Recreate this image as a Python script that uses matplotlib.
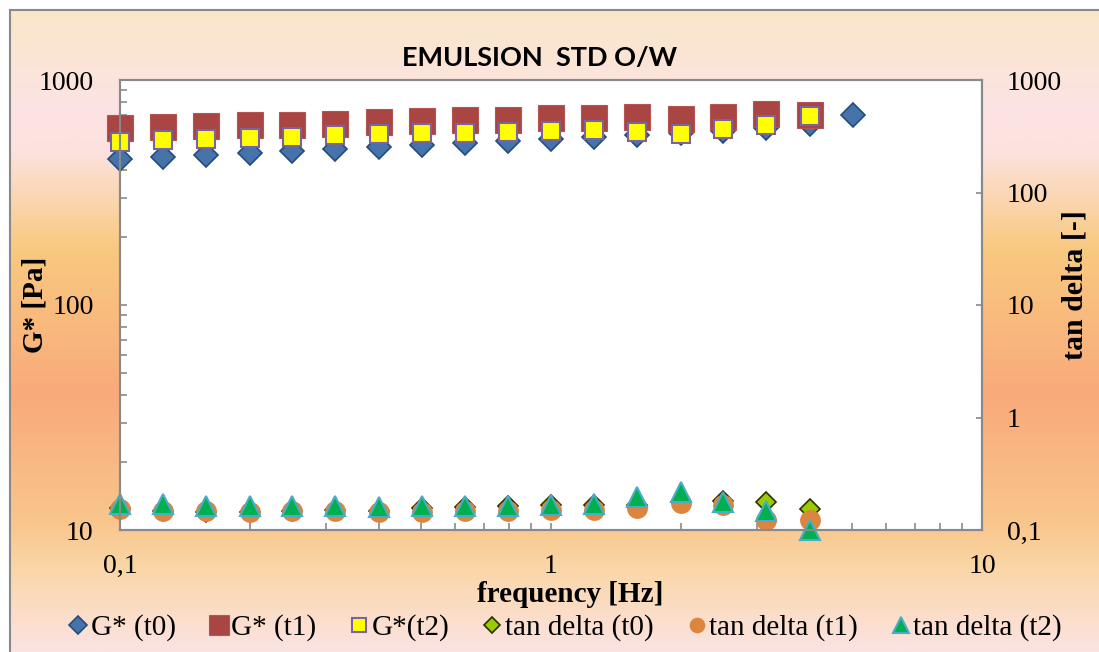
import numpy as np
import matplotlib.pyplot as plt
from matplotlib.colors import LinearSegmentedColormap
from matplotlib.ticker import FixedLocator, LogLocator, NullFormatter, NullLocator

# oscillatory sweep, frequency in Hz
freq = [0.1, 0.126, 0.158, 0.2, 0.251, 0.316, 0.398, 0.501, 0.631,
        0.794, 1.0, 1.26, 1.58, 2.0, 2.51, 3.16, 3.98, 5.01]

# complex modulus G* [Pa]
g_t0 = [446, 455, 464, 474, 483, 494, 504, 514, 525, 535, 547, 558,
        570, 581, 593, 612, 637, 699]
g_t1 = [612, 617, 625, 631, 634, 639, 650, 658, 664, 666, 678, 681,
        685, 673, 685, 708, 699]
g_t2 = [532, 540, 545, 552, 560, 568, 574, 579, 584, 589, 595, 597,
        587, 577, 603, 628, 690]

# loss factor tan delta [-]
td_t0 = [0.156, 0.148, 0.145, 0.145, 0.148, 0.150, 0.148, 0.158, 0.159,
         0.164, 0.167, 0.166, 0.167, 0.176, 0.181, 0.176, 0.153]
td_t1 = [0.155, 0.148, 0.148, 0.145, 0.148, 0.148, 0.145, 0.145, 0.148,
         0.148, 0.150, 0.150, 0.156, 0.173, 0.168, 0.122, 0.122]
td_t2 = [0.171, 0.171, 0.165, 0.163, 0.163, 0.163, 0.161, 0.164, 0.164,
         0.165, 0.168, 0.171, 0.195, 0.216, 0.177, 0.147, 0.101]

x_ticks = [0.1, 1, 10]
x_labels = ['0,1', '1', '10']
g_ticks = [10, 100, 1000]
g_labels = ['10', '100', '1000']
td_ticks = [0.1, 1, 10, 100, 1000]
td_labels = ['0,1', '1', '10', '100', '1000']

serif = 'Liberation Serif'
grey = '#898989'

W, H = 1099, 652
fig = plt.figure(figsize=(W / 100, H / 100), dpi=100)

# chart area fill: vertical peach gradient
bg = fig.add_axes([10 / W, 0, 1 - 10 / W, 642 / H], zorder=-10)
peach = LinearSegmentedColormap.from_list('peach', [
    (0.00, '#FAE7C9'), (0.15, '#FCE3E3'), (0.22, '#FCE2DF'),
    (0.37, '#F9C980'), (0.60, '#F8AA7A'), (0.80, '#F9C68C'),
    (0.87, '#FAD6A6'), (1.00, '#FCE3E3')])
bg.imshow(np.linspace(0, 1, 256).reshape(-1, 1), aspect='auto', cmap=peach,
          extent=[0, 1, 0, 1])
bg.set_xticks([])
bg.set_yticks([])
for s in ['right', 'bottom']:
    bg.spines[s].set_visible(False)
for s in ['left', 'top']:
    bg.spines[s].set_color(grey)
    bg.spines[s].set_linewidth(1.5)

ax = fig.add_axes([120 / W, 1 - 530 / H, 862 / W, 450 / H])
ax.set_facecolor('white')
ax2 = ax.twinx()

ax.plot(freq, g_t0, ls='none', marker='D', ms=12, mfc='#4674AA',
        mec='#264C7C', mew=1.2, clip_on=False, label='G* (t0)')
ax.plot(freq[:17], g_t1, ls='none', marker='s', ms=19, mfc='#A94543',
        mec='#B45553', mew=0.8, clip_on=False, label='G* (t1)')
ax.plot(freq[:17], g_t2, ls='none', marker='s', ms=13.5, mfc='#FFFF00',
        mec='#7D62A3', mew=1.5, clip_on=False, label='G*(t2)')

ax2.plot(freq[:17], td_t0, ls='none', marker='D', ms=10.5, mfc='#99CC00',
         mec='#2E2E00', mew=1.2, clip_on=False, label='tan delta (t0)')
ax2.plot(freq[:17], td_t1, ls='none', marker='o', ms=15, mfc='#DC853F',
         mec='#DC853F', mew=0, clip_on=False, label='tan delta (t1)')
ax2.plot(freq[:17], td_t2, ls='none', marker='^', ms=14.5, mfc='#00B050',
         mec='#4BACC6', mew=1.5, clip_on=False, label='tan delta (t2)')

ax.set_xscale('log')
ax.set_yscale('log')
ax2.set_yscale('log')
ax.set_xlim(0.1, 10)
ax.set_ylim(10, 1000)
ax2.set_ylim(0.1, 1000)

ax.xaxis.set_major_locator(FixedLocator(x_ticks))
ax.set_xticklabels(x_labels)
ax.xaxis.set_minor_locator(LogLocator(base=10, subs=np.arange(2, 10)))
ax.xaxis.set_minor_formatter(NullFormatter())
ax.yaxis.set_major_locator(FixedLocator(g_ticks))
ax.set_yticklabels(g_labels)
ax.yaxis.set_minor_locator(LogLocator(base=10, subs=np.arange(2, 10)))
ax.yaxis.set_minor_formatter(NullFormatter())
ax2.yaxis.set_major_locator(FixedLocator(td_ticks))
ax2.set_yticklabels(td_labels)
ax2.yaxis.set_minor_locator(NullLocator())

for a in (ax, ax2):
    for s in a.spines.values():
        s.set_color(grey)
        s.set_linewidth(1.5)
ax.tick_params(axis='both', which='both', direction='in', color=grey,
               width=1.2, labelsize=20, labelfontfamily=serif)
ax.tick_params(axis='x', which='both', length=5, pad=17)
ax.tick_params(axis='y', which='both', length=5, pad=19)
ax2.tick_params(axis='y', which='major', direction='in', color=grey,
                width=1.2, length=4, labelsize=20, labelfontfamily=serif,
                pad=18)

fig.text(540 / W, 1 - 58 / H, 'EMULSION  STD O/W', ha='center', va='center',
         fontsize=19.5, fontweight='bold', family='Lato')
fig.text(35 / W, 1 - 305 / H, 'G* [Pa]', rotation=90, ha='center',
         va='center', fontsize=21, fontweight='bold', family=serif)
fig.text(1075 / W, 1 - 285 / H, 'tan delta [-]', rotation=90, ha='center',
         va='center', fontsize=21.5, fontweight='bold', family=serif)
fig.text(570 / W, 1 - 594 / H, 'frequency [Hz]', ha='center', va='center',
         fontsize=21, fontweight='bold', family=serif)

h1, l1 = ax.get_legend_handles_labels()
h2, l2 = ax2.get_legend_handles_labels()
fig.legend(h1 + h2, l1 + l2, loc='center', ncol=6,
           bbox_to_anchor=(566 / W, 1 - 628 / H), frameon=False,
           markerscale=0.75, handlelength=0.55, handletextpad=0.15,
           columnspacing=1.2, prop={'family': serif, 'size': 21})

fig.savefig('out.png', dpi=100)
